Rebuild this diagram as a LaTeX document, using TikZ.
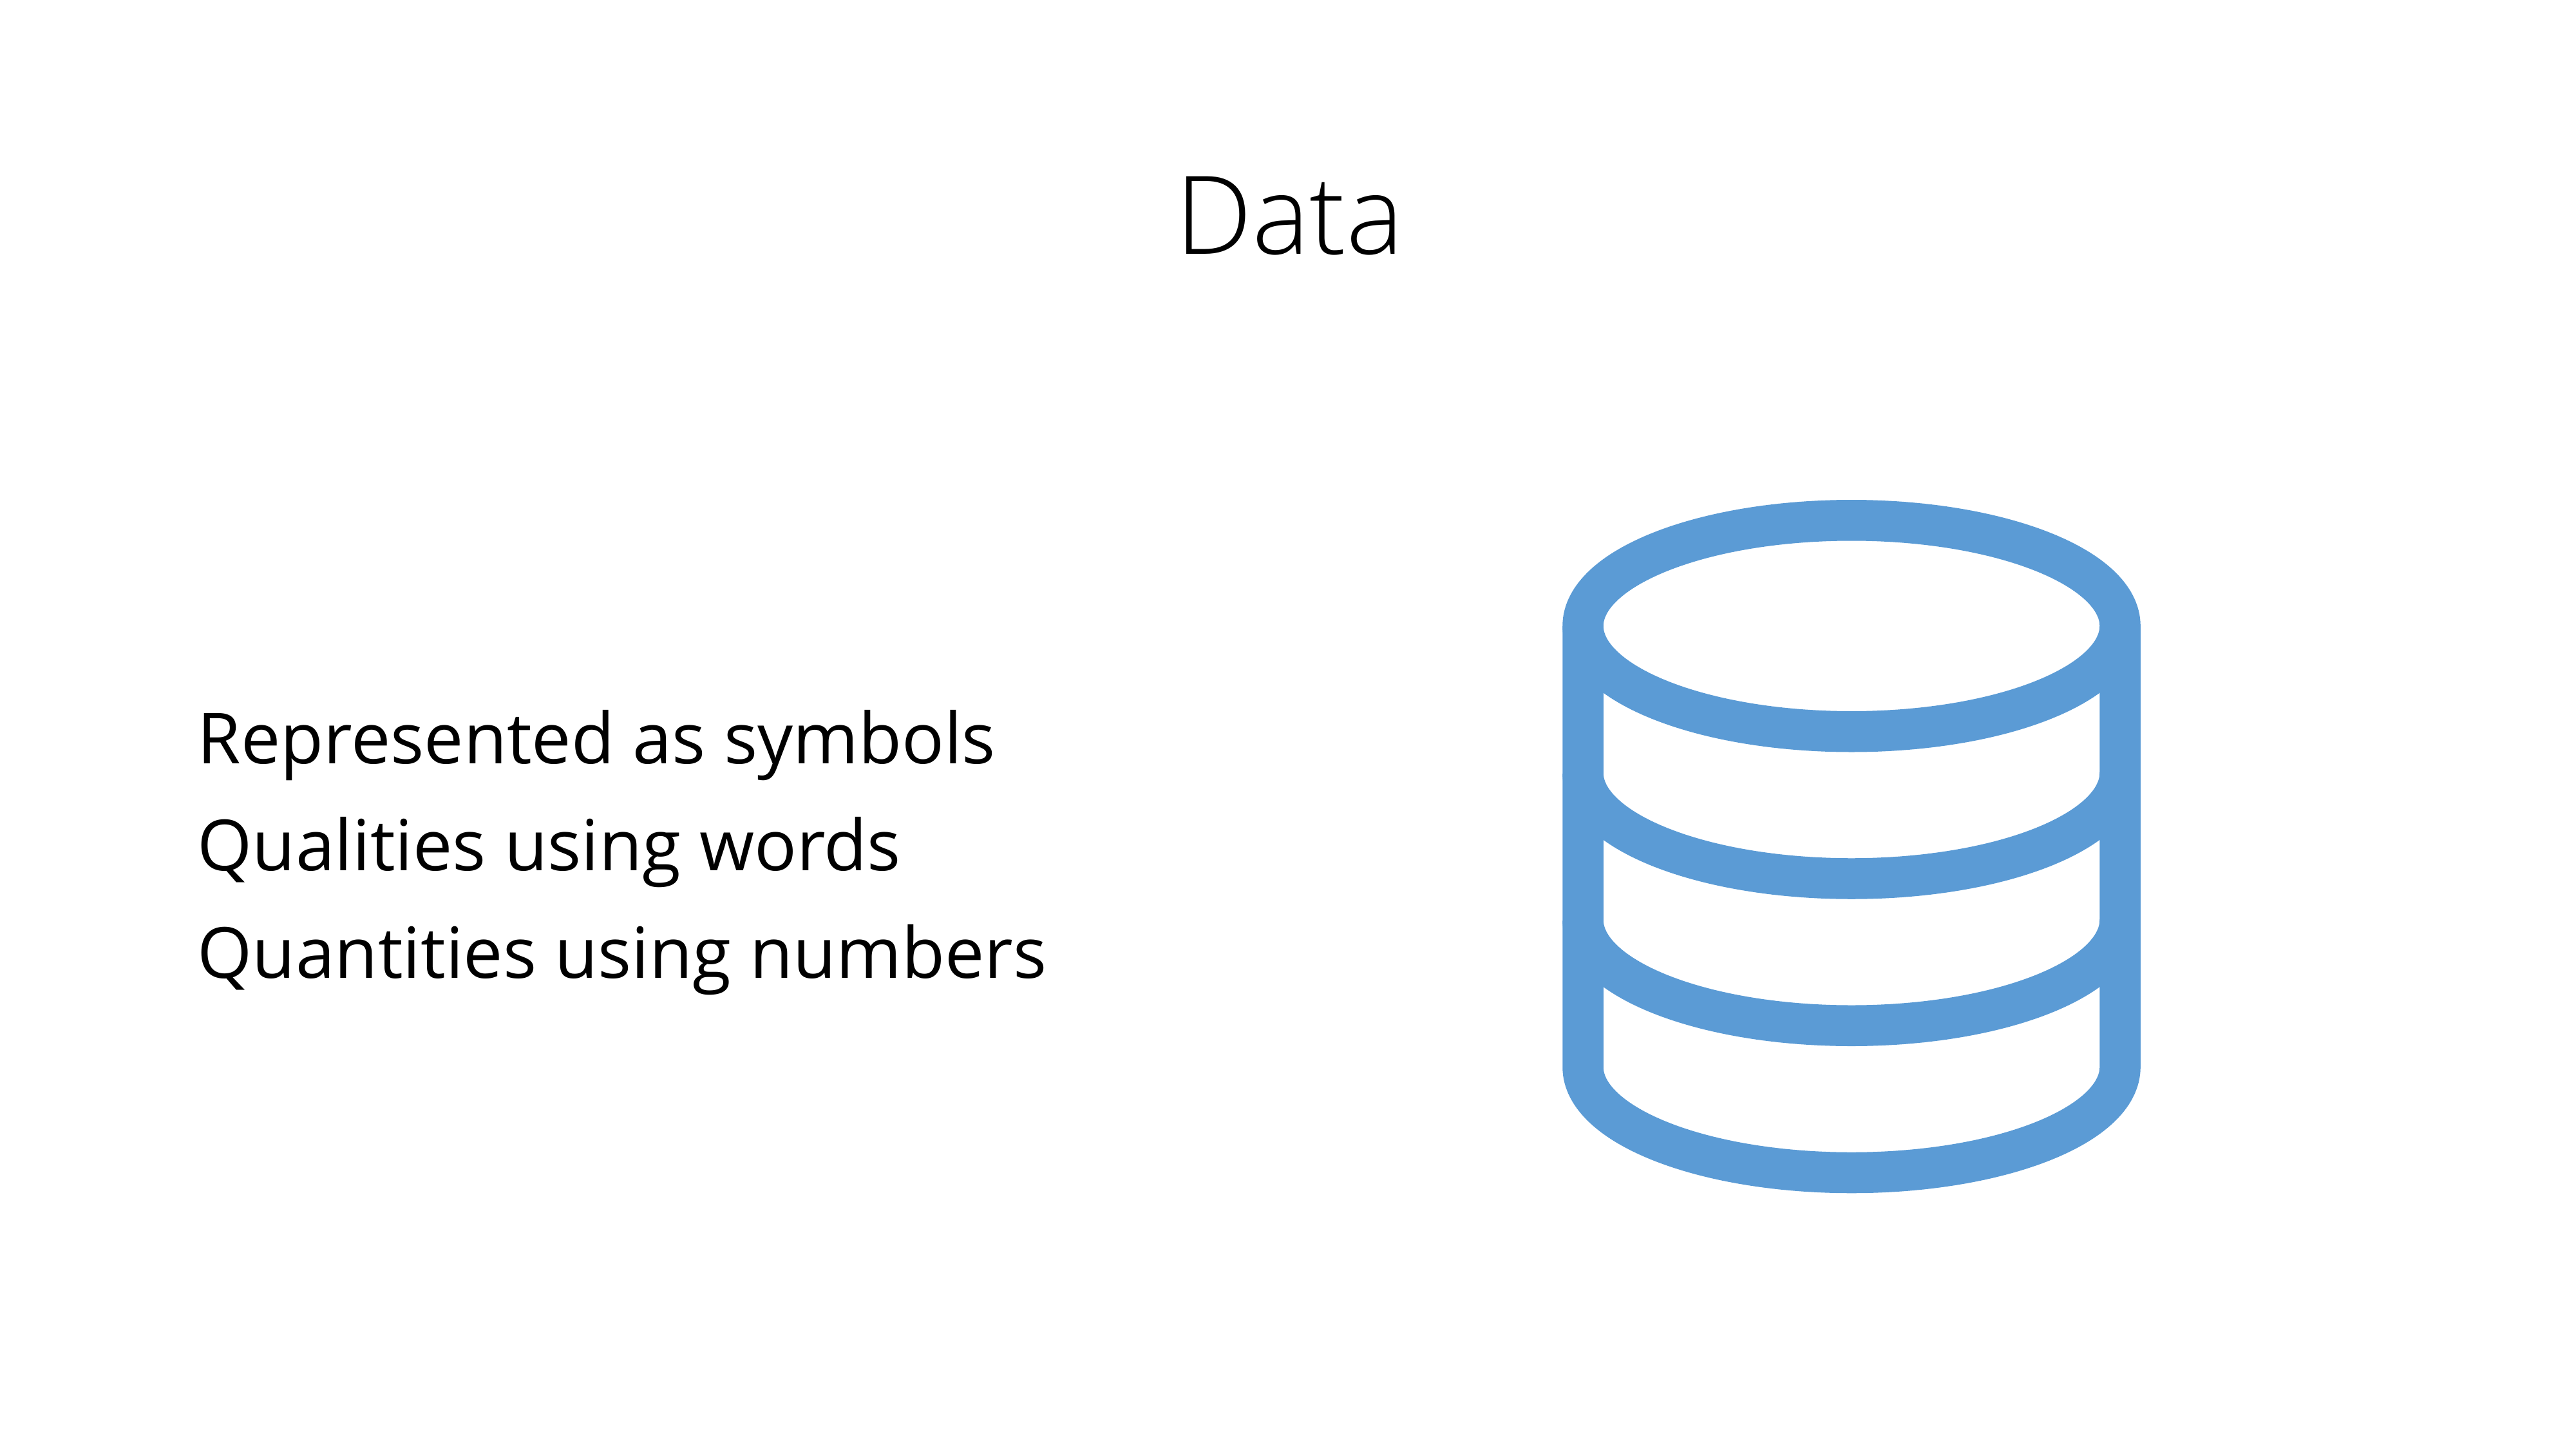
\documentclass[tikz,border=0pt]{standalone}
\usepackage{fontspec}
\setmainfont{Open Sans}
\newfontfamily\titlefont{Open Sans Light}
\usepackage{xcolor}
\definecolor{iconblue}{HTML}{5B9BD5}

\begin{document}
\begin{tikzpicture}[
    heading/.style={font=\titlefont\fontsize{19.2}{24}\selectfont, anchor=base},
    bullet/.style={font=\fontsize{12.45}{16}\selectfont, anchor=base west, inner sep=0pt},
    icon/.style={draw=iconblue, line width=0.254cm, line join=round}
]
\useasboundingbox (0,0) rectangle (16,9);

\node[heading] (title) at (8.01,7.42) {Data};

\node[bullet] (symbols)    at (1.22,4.26) {Represented as symbols};
\node[bullet] (qualities)  at (1.22,3.596) {Qualities using words};
\node[bullet] (quantities) at (1.22,2.928) {Quantities using numbers};

% database icon
\draw[icon] (11.5,5.113) ellipse (1.668 and 0.656);
\draw[icon] (9.832,5.113) -- (9.832,2.374) arc (180:360:1.668 and 0.656) -- (13.168,5.113);
\draw[icon] (9.832,4.2)   arc (180:360:1.668 and 0.656);
\draw[icon] (9.832,3.287) arc (180:360:1.668 and 0.656);
\end{tikzpicture}
\end{document}
